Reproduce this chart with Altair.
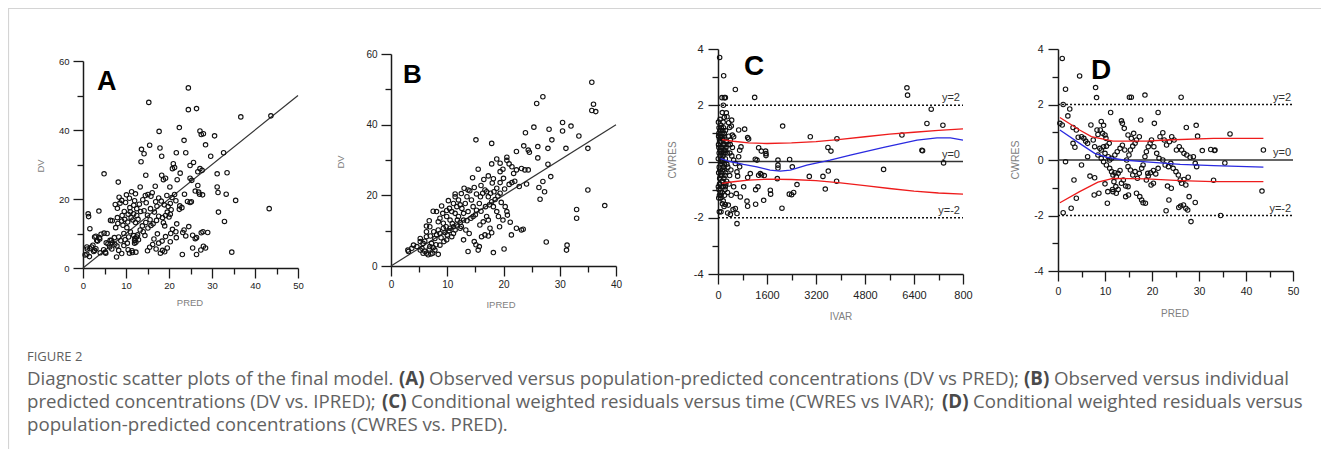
import json
import altair as alt
import pandas as pd

# ---------------- data ----------------
# Panel A : DV vs PRED
a_points = [(24.5,52.2),(15.3,48.0),(24.5,45.9),(26.4,46.2),(36.7,43.8),(43.7,44.1),(22.4,40.7),(17.7,39.6),(27.2,39.7),(27.5,38.7),(28.0,38.9),(30.6,38.3),(23.5,37.0),(13.6,34.4),(14.2,33.1),(15.5,35.6),(17.9,34.8),(18.3,32.4),(21.7,33.4),(23.9,33.4),(28.5,35.7),(32.7,33.4),(29.7,32.4),(13.5,30.8),(4.9,27.3),(25.7,30.6),(21.0,30.2),(21.3,29.1),(20.8,28.8),(24.9,29.7),(22.6,27.5),(26.7,27.9),(27.2,28.8),(27.7,28.3),(33.5,27.6),(31.2,27.3),(14.6,26.9),(18.3,26.9),(18.7,25.6),(19.2,26.0),(24.9,26.0),(25.3,25.4),(21.9,25.6),(8.2,24.9),(26.7,23.9),(26.9,22.0),(13.3,23.5),(20.2,23.5),(16.8,23.7),(31.2,23.5),(31.4,21.9),(23.6,21.4),(26.1,22.3),(33.3,21.4),(35.5,19.6),(43.3,17.2),(31.5,16.2),(32.9,13.5),(34.6,4.6),(23.1,3.9),(26.4,3.9),(7.8,3.2),(0.9,4.0),
(27.1,21.4),(27.8,21.2),(24.3,19.3),(24.9,19.0),(25.2,19.2),(29.0,10.3),(27.5,10.2),(27.9,10.5),(25.5,9.5),(26.1,8.5),(26.4,8.8),(28.0,6.3),(28.5,5.8),(27.4,5.2),(25.5,5.8),(23.2,10.3),(23.5,11.0),(23.9,9.3),(24.6,12.0),(21.7,8.8),
(11.4,5.0),(11.5,4.5),(12.3,4.6),(10.5,5.3),(10.8,4.3),(12.0,8.0),(12.1,8.6),(12.5,9.0),(11.8,9.4),(12.9,8.2),(12.3,7.5),(12.7,9.6),(12.0,7.2),
(15.0,5.0),(15.5,6.0),(16.2,6.8),(17.0,5.5),(17.6,7.2),(18.5,5.1),(19.0,4.7),(19.6,5.8),(18.0,4.3),(16.5,8.4),(17.3,9.9),(18.4,7.8),(19.2,9.1),(20.3,7.6),
(14.4,9.4),(14.0,10.5),(15.1,11.6),(15.8,12.3),(16.3,12.8),(17.1,13.8),(17.6,15.0),(18.5,14.6),(19.2,15.2),(19.6,16.2),(20.0,14.8),(20.3,15.6),(20.5,16.9),(19.8,17.8),(18.9,18.3),(18.2,19.4),(17.6,20.3),(16.9,19.2),(15.8,20.8),(15.1,21.3),(14.5,21.0),(16.1,21.8),(19.5,21.0),(20.7,20.4),(21.3,21.3),(20.3,18.7),(21.6,19.5),(22.5,18.0),(23.0,17.5),(22.4,17.0),(21.8,12.8),(20.8,11.2),(21.6,10.5),(20.4,10.0),(19.0,12.2),(18.7,13.1),
(9.5,6.5),(10.3,7.2),(9.8,8.2),(10.6,9.0),(11.0,10.5),(10.2,11.7),(9.3,12.4),(9.0,13.6),(9.7,14.1),(10.4,13.3),(11.2,14.6),(11.6,13.9),(12.2,13.2),(12.8,14.1),(12.5,15.2),(11.8,15.7),(11.0,16.3),(10.5,15.6),(9.6,16.4),(9.1,15.2),(10.9,17.5),(11.8,18.2),(12.5,17.2),(13.4,16.4),(13.1,18.5),(12.0,19.5),(10.8,20.2),(9.9,19.0),(9.0,19.6),(8.4,20.5),(8.0,17.3),(7.5,18.4),(8.6,18.8),
(11.3,22.1),(12.2,21.5),(10.1,21.2),(13.8,12.2),(13.3,11.0),(14.6,13.2),(15.6,14.0),(15.0,15.3),(14.2,16.6),(15.7,17.2),(16.6,16.2),(17.2,17.9),(14.7,18.9),(13.9,19.8),
(0.5,3.8),(1.0,5.5),(1.5,3.3),(2.0,6.1),(2.5,4.8),(3.0,5.6),(3.4,7.8),(3.8,8.8),(4.2,9.8),(3.0,9.2),(4.0,4.4),(4.8,5.3),(5.3,4.3),(5.8,7.0),(6.3,8.0),(6.8,7.3),(7.3,8.8),(7.9,6.4),(8.3,5.1),(8.8,7.9),(6.7,5.5),(5.6,10.0),(6.8,13.7),(8.0,14.6),(7.6,11.7),(1.2,15.7),(1.3,14.9),(1.6,11.4),(3.7,16.5),(4.9,10.1),(2.7,9.0),(3.2,8.0),(3.9,8.4),(0.9,6.1),(1.6,5.6),(2.3,6.6),(2.7,5.1),(5.2,4.6),(6.2,6.1),(6.4,13.8),(5.4,7.3),(6.6,8.0),(7.4,6.9),(8.3,9.0),(9.0,4.2),(9.5,10.0),(8.1,12.9)]

# Panel B : DV vs IPRED
b_points = [(35.7,52.0),(36.0,45.8),(35.7,44.0),(36.4,43.7),(27.0,47.9),(25.9,46.0),(25.4,39.3),(30.5,40.6),(32.0,39.6),(30.5,38.2),(28.1,38.7),(23.9,37.7),(33.4,36.8),(28.6,35.7),(15.1,35.7),(17.9,34.7),(23.6,34.0),(24.4,32.8),(24.6,32.2),(26.1,33.8),(27.9,33.3),(31.1,33.3),(35.0,33.3),(26.1,30.6),(22.3,32.4),(18.8,30.3),(20.6,30.8),(20.6,29.9),(21.0,28.9),(21.5,28.1),(22.3,27.2),(23.2,27.6),(23.8,27.2),(24.4,27.2),(19.4,29.1),(19.9,27.4),(19.4,26.7),(15.5,27.4),(17.9,28.9),(27.9,28.8),(28.4,25.3),(17.3,25.5),(14.5,25.0),(19.4,23.6),(21.0,23.1),(21.5,23.6),(22.8,22.5),(24.1,23.2),(26.3,22.2),(27.0,23.9),(27.3,21.0),(26.5,18.9),(35.0,21.5),(33.0,16.0),(33.0,13.5),(38.0,17.1),(27.6,6.8),(31.3,5.9),(31.2,4.5),(18.2,3.8),(20.1,4.8),(13.7,4.1),(21.4,8.8),(21.2,12.4),(22.3,10.7),(23.2,10.2),(23.5,10.4),(20.3,16.8),(20.6,15.4),(20.7,14.4),(19.9,13.0),(19.3,11.1),(17.6,10.7),(17.3,8.5),(16.1,8.3),(16.7,8.8),(17.9,9.4),(14.8,6.9),(15.1,6.0),(15.7,5.5),(15.5,4.5),(12.9,7.4),(13.9,9.2),(12.3,10.7),(13.3,10.2),
(3.1,4.1),(3.0,4.5),(4.6,5.5),(5.2,6.9),(5.2,7.8),(5.7,6.4),(6.3,8.3),(6.3,9.7),(6.9,11.1),(6.3,3.6),(6.9,5.5),(7.2,6.4),(7.8,7.8),(8.1,8.8),(8.4,10.2),(8.7,9.2),(9.3,10.7),(9.8,11.1),(7.8,4.5),(8.7,5.9),(9.4,6.9),(9.9,7.4),(10.0,8.8),(10.8,8.3),(11.1,9.2),(11.4,10.2),(10.5,10.7),(11.1,11.1),(11.7,11.6),(12.3,12.3),(12.9,13.0),(12.0,14.0),(11.4,14.9),(10.8,15.4),(9.9,14.0),(9.3,12.1),(8.4,12.5),(8.1,15.4),(8.7,13.5),(9.9,15.7),(10.4,16.3),(11.1,17.7),(11.4,19.6),(11.4,20.4),(12.0,18.7),(12.3,17.3),(12.6,16.3),(13.2,17.7),(13.5,19.6),(13.7,21.5),(14.0,21.3),(14.3,18.7),(14.6,16.8),(15.2,15.8),(15.7,17.7),(15.9,19.6),(16.3,20.6),(16.7,21.5),(17.0,21.0),(17.3,19.6),(17.7,20.6),(18.3,21.0),(18.8,22.0),(19.4,20.6),(17.9,18.2),(18.2,16.8),(18.8,15.4),(19.1,14.0),(17.0,14.0),(16.4,12.5),(15.8,11.6),(17.3,13.0),(14.6,14.0),(13.7,15.4),(12.9,14.9),(11.7,16.8),(10.5,13.0),(5.2,4.5),(5.7,3.6),(4.0,5.9),(3.7,5.0),(6.6,3.2),(7.1,3.4),(7.4,3.6),(8.4,3.3),(6.3,11.3),(9.2,14.9),
(5.5,5.0),(6.0,4.2),(6.8,4.8),(7.5,5.2),(8.0,6.0),(6.0,7.0),(7.0,8.5),(7.6,9.7),(8.9,8.0),(9.6,9.5),(10.3,10.0),(10.9,12.0),(11.8,13.0),(12.5,11.2),(13.5,12.8),(14.2,13.5),(15.0,14.5),(16.0,15.5),(16.8,16.8),(17.5,17.3),(18.5,18.8),(19.0,19.8),(15.2,20.4),(14.8,22.2),(16.0,22.8),(12.5,20.5),(13.0,22.0),(10.2,18.5),(9.0,17.0),(7.5,15.5),(6.8,12.8),(16.5,24.5),(18.0,23.5),(20.0,24.8),(21.8,26.2),(22.0,24.0),(20.2,21.8),(19.6,18.0),(18.2,24.7)]

# Panel C : CWRES vs IVAR
c_points = [(54,3.7),(185,3.05),(566,2.56),(1197,2.28),(130,2.27),(207,2.27),(240,2.27),(174,2.0),(6169,2.62),(6190,2.36),(6963,1.86),(6822,1.35),(7344,1.29),(6006,0.94),(6659,0.40),(6680,0.38),(7366,-0.05),(5407,-0.28),(3014,0.88),(3884,0.81),(3590,0.50),(3688,0.37),(2111,1.26),(2981,-0.53),(3427,-0.53),(3601,-0.34),(3503,-0.98),(3873,-0.70),(2579,-0.82),(2470,-1.10),(2405,-1.18),(2328,-1.16),(2089,-1.66),(2339,0.07),(2426,-0.19),(1958,0.05),(1958,-0.13),(1958,-0.23),(1937,-0.61),(1708,-1.02),(1719,-1.16),(1491,-1.38),(1556,0.37),(1567,0.28),(1567,0.21),(1327,0.49),(1414,0.37),(1218,0.08),(1273,0.05),(1382,-0.43),(1327,-0.49),(1425,-0.47),(1512,-0.50),(1229,-1.00),(1306,-0.90),(1229,-1.52),(947,-1.41),(968,-1.59),(620,-2.21),(838,-0.90),(968,-0.57),(1055,-0.43),(968,0.85),(1000,0.80),(870,1.15),(675,1.12),(751,0.52),(707,0.40),(707,-0.19),(620,-0.37),(642,-0.52),(511,-0.90),(598,-1.14),(729,-1.26),(566,-1.67),(620,-1.85),(403,-1.88),(316,-1.83),(490,-1.71),(337,-1.55),(240,-1.53),(44,-1.79),(98,-1.79),(511,0.05),(566,-0.07),(675,0.17),(403,0.76),(511,0.88),(468,0.94),(435,1.26),(381,1.21),(348,1.38),(446,1.47),(294,1.59),(207,1.57),(272,1.73),(141,1.74),
(20,0.9),(30,0.5),(40,-0.2),(50,-0.8),(60,1.1),(70,0.2),(80,-0.5),(90,0.7),(100,-1.2),(110,0.3),(120,-0.9),(130,1.0),(140,0.0),(150,-0.3),(160,0.6),(170,-1.4),(180,1.2),(190,-0.6),(200,0.4),(210,-0.1),(220,0.8),(230,-1.0),(240,0.1),(250,-0.4),(260,0.5),(280,-0.7),(300,0.3),(320,-0.2),(350,0.9),(380,-0.5),(400,0.6),(420,-0.3),(450,0.2),
(15,1.4),(25,-1.3),(35,1.2),(45,0.8),(55,-0.6),(65,0.4),(75,-1.1),(85,1.3),(95,0.0),(105,-0.4),(115,0.9),(125,-0.7),(135,0.5),(145,-1.5),(155,1.1),(165,0.2),(175,-0.9),(185,0.6),(195,-0.2),(205,1.0),(215,-1.2),(225,0.3),(235,-0.5),(245,1.1),(255,-0.8),(270,0.7),(290,-0.1),(310,-1.1),(330,0.6),(360,-0.8),(390,0.3),(430,-1.2),(470,0.5),
(10,0.1),(12,-0.9),(18,0.6),(22,-0.4),(28,1.0),(33,-1.0),(38,0.3),(48,-1.2),(52,0.7),(58,-0.3),(68,1.5),(72,-0.8),(78,0.9),(88,-0.1),(92,-1.3),(98,0.5),(108,1.2),(118,-0.5),(128,0.1),(138,-1.1),(148,0.8),(158,-0.7),(168,1.4),(178,-0.2),(188,0.3),(198,-1.6),(208,0.9),(218,-0.3),(228,0.6),(238,-0.9),(248,0.4)]

# Panel D : CWRES vs PRED
d_points = [(0.9,3.66),(4.6,3.03),(1.6,2.55),(8.0,2.61),(8.2,2.25),(15.2,2.26),(15.6,2.26),(18.5,2.34),(26.2,2.26),(1.1,2.0),(2.5,1.84),(2.1,1.59),(0.4,1.32),(0.9,1.26),(3.2,1.17),(3.9,1.08),(11.2,1.71),(21.3,1.71),(9.2,1.39),(9.7,1.25),(13.5,1.41),(13.7,1.32),(14.1,1.14),(17.6,1.44),(20.5,1.32),(27.3,1.17),(29.4,1.25),(29.7,0.86),(36.6,0.94),(30.7,0.34),(32.5,0.38),(33.3,0.34),(33.4,0.36),(43.7,0.36),(35.5,-0.11),(33.1,-0.73),(43.4,-1.12),(34.6,-2.0),(28.3,-2.22),(29.2,-1.53),(27.9,-1.32),(27.2,-1.74),(27.6,-1.80),(26.7,-1.62),(26.1,-1.66),(23.0,-1.83),(25.7,-1.71),(23.6,-1.44),(23.3,-0.94),(24.1,-1.02),(1.1,-1.90),(2.8,-1.74),(3.4,-0.72),(3.9,-1.38),(1.6,-0.06),(5.0,-0.18),(6.8,-0.58),(7.8,-0.64),(7.7,-1.26),(8.7,-1.2),(10.5,-1.56),(10.6,-1.14),(11.7,-1.14),(12.4,-1.2),(10.0,-0.86),(14.4,-1.32),(15.0,-1.26),(16.7,-1.2),(17.4,-1.32),(17.8,-1.44),(18.1,-1.54),(18.6,-1.56),(19.8,-0.90),(20.3,-0.84),(19.1,-0.48),
(3.2,0.6),(3.6,0.46),(4.3,0.82),(5.0,0.84),(5.5,0.78),(5.9,0.68),(6.3,0.6),(6.3,0.12),(7.0,1.26),(8.3,1.08),(8.5,0.92),(9.0,1.08),(9.5,0.96),(10.0,0.9),(10.2,0.78),(8.9,0.42),(9.2,0.36),(9.7,0.48),(10.3,0.50),(10.9,0.6),(8.5,0.18),(9.2,0.06),(9.7,-0.06),(10.3,-0.18),(11.0,-0.3),(11.4,-0.42),(11.7,-0.54),(12.1,-0.46),(12.4,-0.6),(12.8,-0.48),(13.2,-0.38),(11.4,0.06),(12.1,0.18),(12.6,0.3),(13.2,0.42),(13.7,0.53),(14.2,0.36),(11.9,-0.78),(12.3,-0.96),(12.8,-1.06),(11.6,-1.06),(14.6,0.0),(15.1,0.18),(15.4,0.36),(15.9,0.5),(16.4,0.6),(14.9,0.9),(15.6,0.78),(16.1,0.96),(16.7,0.72),(17.3,0.84),(14.9,-0.24),(15.4,-0.36),(15.9,-0.54),(16.4,-0.42),(16.9,-0.66),(17.3,-0.48),(17.8,-0.3),(18.1,-0.18),(18.5,0.12),(18.8,0.3),(19.2,0.48),(19.6,0.6),(19.9,0.72),(20.4,0.48),(21.0,0.24),(21.5,0.06),(18.8,-0.72),(19.2,-0.58),(19.7,-0.46),(20.3,-0.38),(20.8,-0.5),(21.3,-0.3),(21.7,0.84),(22.3,0.98),(22.6,0.72),(23.1,0.54),(23.7,0.66),(24.2,0.84),(24.7,0.72),(22.3,0.0),(22.8,-0.18),(23.5,-0.24),(24.0,-0.12),(24.5,-0.3),(25.1,-0.42),(25.6,-0.54),(25.2,0.36),(25.8,0.48),(26.3,0.36),(26.8,0.24),(27.4,0.18),(28.1,0.1),(28.8,0.12),(29.2,-0.12),(29.5,-0.24),(26.0,-0.72),(26.3,-0.84),(26.8,-0.7),(27.2,-0.9),(27.7,-0.62),(13.9,-0.72),(13.5,-0.84),(14.4,-0.94),(14.9,-0.96),(10.0,0.24),(10.7,0.12),(11.0,0.0),(7.5,0.72),(7.8,0.48)]

# smooth / percentile lines
c_upper = [(130,0.78),(500,0.72),(1000,0.66),(1600,0.64),(2400,0.66),(3200,0.71),(4000,0.79),(4800,0.88),(5600,0.97),(6400,1.04),(7200,1.11),(8000,1.16)]
c_lower = [(130,-0.78),(500,-0.72),(1000,-0.66),(1600,-0.63),(2400,-0.64),(3200,-0.68),(4000,-0.76),(4800,-0.86),(5600,-0.96),(6400,-1.05),(7200,-1.12),(8000,-1.16)]
c_mean = [(80,0.1),(400,0.0),(830,-0.1),(1270,-0.19),(1700,-0.31),(2030,-0.34),(2360,-0.31),(2900,-0.13),(3660,0.05),(4320,0.23),(5410,0.5),(6500,0.76),(7150,0.84),(7590,0.84),(8000,0.76)]
d_upper = [(0.4,1.53),(4.6,1.08),(7.1,0.84),(11.7,0.68),(18.8,0.68),(23.1,0.72),(33.1,0.78),(43.7,0.78)]
d_lower = [(0.4,-1.54),(4.6,-1.14),(8.5,-0.8),(11.7,-0.66),(18.8,-0.68),(26.0,-0.74),(33.1,-0.78),(43.7,-0.78)]
d_mean = [(0.4,1.08),(4.6,0.6),(7.8,0.24),(10.3,0.1),(13.9,0.0),(18.8,-0.07),(26.0,-0.16),(33.1,-0.2),(43.7,-0.26)]

a_identity = [(0, 0), (50, 50)]
b_identity = [(0, 0), (40, 40)]
c_ref_levels = [2, 0, -2]
c_ref_labels = ["y=2", "y=0", "y=-2"]

# axis ticks / labels
a_x_major = [0, 10, 20, 30, 40, 50]; a_x_minor = [5, 15, 25, 35, 45]
a_x_labels = ["0", "10", "20", "30", "40", "50"]
a_y_major = [0, 20, 40, 60]; a_y_minor = [10, 30, 50]
a_y_labels = ["0", "20", "40", "60"]
b_x_major = [0, 10, 20, 30, 40]; b_x_minor = [5, 15, 25, 35]
b_x_labels = ["0", "10", "20", "30", "40"]
c_x_major = [0, 1600, 3200, 4800, 6400, 8000]; c_x_minor = [800, 2400, 4000, 5600, 7200]
c_x_labels = ["0", "1600", "3200", "4800", "6400", "800"]
r_y_major = [-4, -2, 0, 2, 4]; r_y_minor = [-3, -1, 1, 3]
r_y_labels = ["-4", "-2", "0", "2", "4"]
d_x_major = [0, 10, 20, 30, 40, 50]; d_x_minor = [5, 15, 25, 35, 45]
d_x_labels = ["0", "10", "20", "30", "40", "50"]

panel_letters = ["A", "B", "C", "D"]
x_titles = ["PRED", "IPRED", "IVAR", "PRED"]
y_titles = ["DV", "DV", "CWRES", "CWRES"]

caption_head = "FIGURE 2"
caption_segments = [
    # (line, text, bold)
    (0, "Diagnostic scatter plots of the final model.", False),
    (0, "(A)", True),
    (0, "Observed versus population-predicted concentrations (DV vs PRED);", False),
    (0, "(B)", True),
    (0, "Observed versus individual", False),
    (1, "predicted concentrations (DV vs. IPRED);", False),
    (1, "(C)", True),
    (1, "Conditional weighted residuals versus time (CWRES vs IVAR);", False),
    (1, "(D)", True),
    (1, "Conditional weighted residuals versus", False),
    (2, "population-predicted concentrations (CWRES vs. PRED).", False),
]

# ---------------- layout (chart pixel space) ----------------
W, H = 1313, 441
A_X, A_Y = [75, 290], [260, 53]
B_X, B_Y = [383, 608], [258, 46]
C_X, C_Y = [710, 955], [266, 41]
D_X, D_Y = [1050, 1285], [263, 41]
CAP_SIZE = 18.7
seg_x = [19, 391, 421, 1016, 1046, 19, 374, 403, 934, 965, 19]
line_y = [377, 400, 423]

INK = "#1a1a1a"
LFONT = "Liberation Sans"


def df(pairs):
    return pd.DataFrame(pairs, columns=["x", "y"])


def sc(dom, rng):
    return alt.Scale(domain=dom, range=rng, nice=False, zero=False)


def lexpr(vals, labels):
    return f"{json.dumps(labels)}[indexof({json.dumps(vals)}, datum.value)]"


def axis(orient, offset, values, size, labels=None, fsize=10, pad=3, domain=True):
    kw = dict(orient=orient, offset=offset, values=values, tickSize=size,
              tickWidth=1.3, tickColor=INK, domain=domain, domainColor=INK,
              domainWidth=1.5, grid=False, labelFont=LFONT, labelFontSize=fsize,
              labelColor="#222222", labelPadding=pad, labelOverlap=False,
              labelFlush=False, labels=labels is not None)
    if labels is not None:
        kw["labelExpr"] = lexpr(values, labels)
    return alt.Axis(**kw)


def points(data, xs, ys, xax, yax):
    return alt.Chart(df(data)).mark_point(
        shape="circle", filled=False, size=20, strokeWidth=1.1, color="#111111", opacity=1
    ).encode(x=alt.X("x:Q", scale=xs, axis=xax, title=None),
             y=alt.Y("y:Q", scale=ys, axis=yax, title=None))


def line(data, xs, ys, color, width=1.3, xax=None, yax=None):
    return alt.Chart(df(data)).mark_line(color=color, strokeWidth=width).encode(
        x=alt.X("x:Q", scale=xs, axis=xax, title=None),
        y=alt.Y("y:Q", scale=ys, axis=yax, title=None))


ONE = pd.DataFrame({"k": [0]})


def label(text, x, y, size, color="#333333", weight="normal", font=LFONT,
          angle=0, align="center", baseline="middle"):
    kw = dict(text=text, fontSize=size, color=color, fontWeight=weight, font=font,
              align=align, baseline=baseline)
    if angle:
        kw["angle"] = angle
    return alt.Chart(ONE).mark_text(**kw).encode(x=alt.value(x), y=alt.value(y))


layers = []

# ---- Panel A ----
sxA, syA = sc([0, 50], A_X), sc([0, 60], A_Y)
layers.append(line(a_identity, sxA, syA, "#333333", 1.2,
                   xax=axis("bottom", -(H - A_Y[0]), a_x_minor, 6, domain=False),
                   yax=axis("left", -A_X[0], a_y_minor, 6, domain=False)))
layers.append(points(a_points, sxA, syA,
                     axis("bottom", -(H - A_Y[0]), a_x_major, 10, a_x_labels, 9.5, 2),
                     axis("left", -A_X[0], a_y_major, 10, a_y_labels, 9.5, 4)))

# ---- Panel B ----
sxB, syB = sc([0, 40], B_X), sc([0, 60], B_Y)
layers.append(line(b_identity, sxB, syB, "#333333", 1.2,
                   xax=axis("bottom", -(H - B_Y[0]), b_x_minor, 6, domain=False),
                   yax=axis("left", -B_X[0], a_y_minor, 6, domain=False)))
layers.append(points(b_points, sxB, syB,
                     axis("bottom", -(H - B_Y[0]), b_x_major, 10, b_x_labels, 10, 3),
                     axis("left", -B_X[0], a_y_major, 10, a_y_labels, 10, 4)))


def residual_panel(pts, upper, lower, mean, xs, ys, xr, yr, xdom,
                   x_major, x_minor, x_labels, fsize, lab_x):
    out = []
    ref = pd.DataFrame({"x": [xdom[0], xdom[1], xdom[0], xdom[1]],
                        "y": [2, 2, -2, -2], "g": ["p", "p", "m", "m"]})
    out.append(alt.Chart(ref).mark_line(color="#111111", strokeWidth=1.5, strokeDash=[2, 2]).encode(
        x=alt.X("x:Q", scale=xs, axis=axis("bottom", -(H - yr[0]), x_minor, 6, domain=False), title=None),
        y=alt.Y("y:Q", scale=ys, axis=axis("left", -xr[0], r_y_minor, 6, domain=False), title=None),
        detail="g:N"))
    out.append(line([(xdom[0], 0), (xdom[1], 0)], xs, ys, "#333333", 1.6))
    out.append(points(pts, xs, ys,
                      axis("bottom", -(H - yr[0]), x_major, 10, x_labels, fsize, 5),
                      axis("left", -xr[0], r_y_major, 10, r_y_labels, fsize, 5)))
    out.append(line(upper, xs, ys, "#ee1c1c", 1.3))
    out.append(line(lower, xs, ys, "#ee1c1c", 1.3))
    out.append(line(mean, xs, ys, "#2a2ae0", 1.3))
    lab = pd.DataFrame({"x": [lab_x] * 3, "y": c_ref_levels, "t": c_ref_labels})
    out.append(alt.Chart(lab).mark_text(align="right", baseline="alphabetic", dy=-4,
                                        font=LFONT, fontSize=11, color="#333333").encode(
        x=alt.X("x:Q", scale=xs, axis=None), y=alt.Y("y:Q", scale=ys, axis=None), text="t:N"))
    return out


sxC, syC = sc([0, 8000], C_X), sc([-4, 4], C_Y)
layers += residual_panel(c_points, c_upper, c_lower, c_mean, sxC, syC, C_X, C_Y, [0, 8000],
                         c_x_major, c_x_minor, c_x_labels, 11, 7900)
sxD, syD = sc([0, 50], D_X), sc([-4, 4], D_Y)
layers += residual_panel(d_points, d_upper, d_lower, d_mean, sxD, syD, D_X, D_Y, [0, 50],
                         d_x_major, d_x_minor, d_x_labels, 10.5, 49.6)

# ---- panel letters & axis titles ----
letter_pos = [(89, 82, 27), (395, 75, 26), (736, 67, 28), (1083, 71, 28)]
for t, (x, y, s) in zip(panel_letters, letter_pos):
    layers.append(label(t, x, y, s, color="#000000", weight="bold", align="left",
                        baseline="alphabetic"))
xt_pos = [(182, 295, 9.5), (493, 297, 9.5), (833, 309, 10), (1167, 306, 10)]
for t, (x, y, s) in zip(x_titles, xt_pos):
    layers.append(label(t, x, y, s, color="#808080"))
yt_pos = [(33, 158, 9.5), (333, 154, 9.5), (665, 152, 10), (1008, 152, 10.5)]
for t, (x, y, s) in zip(y_titles, yt_pos):
    layers.append(label(t, x, y, s, color="#808080", angle=270))

# ---- caption ----
CAP_FONT = "Open Sans"
layers.append(label(caption_head, 19, 353, 13, color="#5f5f5f", font=CAP_FONT,
                    align="left", baseline="alphabetic"))
for (ln, t, bold), x in zip(caption_segments, seg_x):
    layers.append(label(t, x, line_y[ln], CAP_SIZE, color="#626262" if not bold else "#4a4a4a",
                        weight="bold" if bold else "normal", font=CAP_FONT,
                        align="left", baseline="alphabetic"))

# ---- frame (top and left border of the figure box) ----
layers.append(alt.Chart(ONE).mark_rule(color="#d4d4d4", strokeWidth=1.2).encode(
    x=alt.value(0), x2=alt.value(W), y=alt.value(0.5)))
layers.append(alt.Chart(ONE).mark_rule(color="#d4d4d4", strokeWidth=1.2).encode(
    x=alt.value(0.5), y=alt.value(0), y2=alt.value(H)))

chart = alt.layer(*layers).resolve_scale(x="independent", y="independent").properties(
    width=W, height=H, padding=0, background="white",
    autosize=alt.AutoSizeParams(type="none"),
).configure_view(stroke="transparent")

chart.save("out.html", embed_options={"renderer": "svg", "actions": False})
